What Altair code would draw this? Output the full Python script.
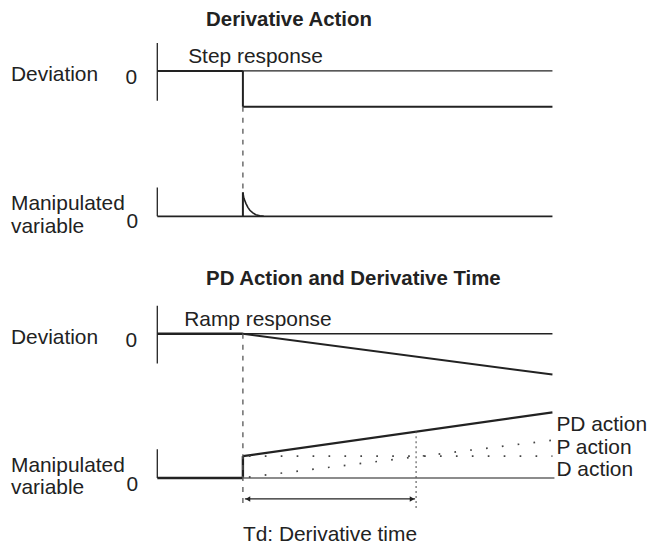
import altair as alt
import pandas as pd

# ---- diagram data (image-like coordinates: x to the right, y downward) ----
# solid segments: x1, y1, x2, y2, stroke width, colour
seg_x1 = [158, 158, 244, 244, 244, 158, 244, 158, 158, 244, 158, 244, 158, 158, 244, 244, 244]
seg_y1 = [42, 70, 70, 70, 106, 187, 192, 216, 306, 334, 334, 334, 450, 479, 479, 457, 479]
seg_x2 = [158, 244, 555, 244, 555, 158, 244, 555, 158, 555, 244, 555, 158, 244, 244, 555, 557]
seg_y2 = [100, 70, 70, 106, 106, 216, 216, 216, 364, 334, 334, 375, 479, 479, 457, 413, 479]
seg_w = [1.3, 2.0, 1.3, 2.0, 2.0, 1.3, 2.0, 1.8, 1.3, 1.3, 2.6, 2.0, 1.3, 2.6, 2.4, 2.2, 1.4]
seg_c = ["#222"] * 16 + ["#666"]

# dashed verticals at the step time
dash_x1 = [244, 244]
dash_y1 = [106, 334]
dash_x2 = [244, 244]
dash_y2 = [192, 510]

# dotted lines: P action level and ramp
dot_x1 = [250, 250]
dot_y1 = [457, 478]
dot_x2 = [555, 555]
dot_y2 = [457, 441]

# Td marker (fine dotted vertical)
td_x, td_y1, td_y2 = 418, 432, 510

# derivative spike decay curve
decay_x = [244, 245, 247, 249, 251, 254, 257, 261, 265]
decay_y = [192, 198, 203, 207, 210, 212.6, 214.4, 215.5, 216]

# Td arrow
arrow_x1, arrow_x2, arrow_y = 246, 417, 500

# texts (x = left edge unless noted, y = baseline)
txt = ["Derivative Action", "PD Action and Derivative Time",
       "Step response", "Deviation", "0", "Manipulated", "variable", "0",
       "Ramp response", "Deviation", "0", "Manipulated", "variable", "0",
       "PD action", "P action", "D action", "Td: Derivative time"]
txt_x = [207, 207, 189, 11, 126, 11, 11, 127, 185, 11, 126, 11, 11, 127, 559, 559, 559, 244]
txt_y = [25, 285, 62, 80, 83, 210, 233, 228, 326, 344, 347, 473, 495, 492, 432, 455, 477, 542]
txt_bold = [True, True] + [False] * 16

X = alt.Scale(domain=[8, 648], nice=False, zero=False)
Y = alt.Scale(domain=[540, 8], nice=False, zero=False)


def enc_xy():
    return dict(x=alt.X("x:Q", scale=X, axis=None), y=alt.Y("y:Q", scale=Y, axis=None))


segs = pd.DataFrame(dict(x=seg_x1, y=seg_y1, x2=seg_x2, y2=seg_y2, w=seg_w, c=seg_c))
solid = alt.Chart(segs).mark_rule(strokeCap="butt").encode(
    **enc_xy(), x2="x2:Q", y2="y2:Q",
    strokeWidth=alt.StrokeWidth("w:Q", scale=None),
    color=alt.Color("c:N", scale=None))

dashed = alt.Chart(pd.DataFrame(dict(x=dash_x1, y=dash_y1, x2=dash_x2, y2=dash_y2))).mark_rule(
    color="#555", strokeWidth=1.3, strokeDash=[5, 6]).encode(**enc_xy(), x2="x2:Q", y2="y2:Q")

dotted = alt.Chart(pd.DataFrame(dict(x=dot_x1, y=dot_y1, x2=dot_x2, y2=dot_y2))).mark_rule(
    color="#444", strokeWidth=1.7, strokeDash=[1.7, 14.3]).encode(**enc_xy(), x2="x2:Q", y2="y2:Q")

td_line = alt.Chart(pd.DataFrame(dict(x=[td_x], y=[td_y1], y2=[td_y2]))).mark_rule(
    color="#555", strokeWidth=1.1, strokeDash=[2, 3]).encode(**enc_xy(), y2="y2:Q")

decay = alt.Chart(pd.DataFrame(dict(x=decay_x, y=decay_y, o=list(range(len(decay_x)))))).mark_line(
    color="#222", strokeWidth=1.6).encode(**enc_xy(), order="o:Q")

arrow_line = alt.Chart(pd.DataFrame(dict(x=[arrow_x1], x2=[arrow_x2], y=[arrow_y]))).mark_rule(
    color="#222", strokeWidth=1.3).encode(**enc_xy(), x2="x2:Q")

heads = alt.Chart(pd.DataFrame(dict(x=[arrow_x1 + 3, arrow_x2 - 3], y=[arrow_y, arrow_y],
                                    s=["triangle-left", "triangle-right"]))).mark_point(
    filled=True, color="#222", size=30, opacity=1).encode(
    **enc_xy(), shape=alt.Shape("s:N", scale=None))

tdf = pd.DataFrame(dict(t=txt, x=txt_x, y=txt_y, b=txt_bold))
title_text = alt.Chart(tdf[tdf.b]).mark_text(
    align="left", baseline="alphabetic", font="Liberation Sans", fontSize=20.5,
    fontWeight="bold", color="#222").encode(**enc_xy(), text="t:N")
label_text = alt.Chart(tdf[~tdf.b]).mark_text(
    align="left", baseline="alphabetic", font="Liberation Sans", fontSize=21,
    color="#222").encode(**enc_xy(), text="t:N")

chart = alt.layer(solid, dashed, dotted, td_line, decay, arrow_line, heads,
                  title_text, label_text).properties(
    width=640, height=532, padding=0, background="white"
).configure_view(stroke=None)

chart.save("out.html", embed_options={"renderer": "svg", "actions": False})
